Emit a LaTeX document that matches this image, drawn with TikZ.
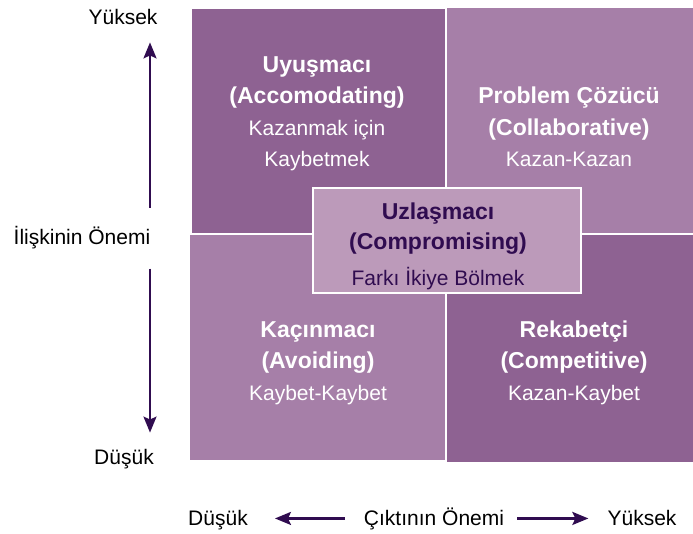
\documentclass[tikz,border=0pt]{standalone}
\usepackage{fontspec}
\setmainfont{Liberation Sans}
\usetikzlibrary{arrows.meta, positioning}
\definecolor{deepplum}{RGB}{142,98,146}
\definecolor{softplum}{RGB}{166,127,168}
\definecolor{paleplum}{RGB}{188,154,186}
\definecolor{inkplum}{RGB}{48,12,80}
\newcommand{\hd}[1]{{\fontsize{23}{31.5}\bfseries #1}}

\begin{document}
\begin{tikzpicture}[x=1pt, y=-1pt, >=Stealth,
    quad/.style={draw=white, line width=1.5pt, anchor=north west, inner sep=0pt},
    mid/.style={draw=white, line width=2pt, fill=paleplum, anchor=north west, inner sep=0pt, minimum width=268pt, minimum height=105pt},
    quadtext/.style={anchor=base, align=center, inner sep=0pt, text=white, font=\fontsize{21}{31.5}\selectfont},
    axislabel/.style={anchor=base, inner sep=0pt, font=\fontsize{21}{25}\selectfont},
    axisarrow/.style={draw=inkplum, line width=2.5pt, -{Stealth[length=16pt, width=13pt, inset=3pt]}}]

    \useasboundingbox (0,0) rectangle (693,534);

    % Quadrants
    \node[quad, fill=deepplum, minimum width=255pt, minimum height=225pt] (accom) at (190,8) {};
    \node[quad, fill=softplum, minimum width=248pt, minimum height=226pt] (collab) at (445,7) {};
    \node[quad, fill=softplum, minimum width=257pt, minimum height=226pt] (avoid) at (188,234) {};
    \node[quad, fill=deepplum, minimum width=248pt, minimum height=228pt] (compete) at (445,234) {};
    \node[mid] (compro) at (312,187) {};

    % Quadrant texts (anchored at the last baseline)
    \node[quadtext] (accomtext) at (317,167) {\hd{Uyuşmacı}\\ \hd{(Accomodating)}\\ Kazanmak için\\ Kaybetmek};
    \node[quadtext] (collabtext) at (569,167) {\hd{Problem Çözücü}\\ \hd{(Collaborative)}\\ Kazan-Kazan};
    \node[quadtext] (avoidtext) at (318,400) {\hd{Kaçınmacı}\\ \hd{(Avoiding)}\\ Kaybet-Kaybet};
    \node[quadtext] (competetext) at (574,400) {\hd{Rekabetçi}\\ \hd{(Competitive)}\\ Kazan-Kaybet};
    \node[quadtext, text=inkplum, font=\fontsize{21}{30}\selectfont] (comprotext) at (438,286) {\hd{Uzlaşmacı}\\ \hd{(Compromising)}\\[6pt] Farkı İkiye Bölmek};

    % Axes
    \node[axislabel] (yhigh) at (123,25) {Yüksek};
    \node[axislabel] (relimp) at (82,245) {İlişkinin Önemi};
    \node[axislabel] (ylow) at (124,464) {Düşük};
    \node[axislabel] (xlow) at (218,525) {Düşük};
    \node[axislabel] (outimp) at (434,525) {Çıktının Önemi};
    \node[axislabel] (xhigh) at (642,525) {Yüksek};

    \coordinate (vaxis) at (150,0);
    \draw[axisarrow, shorten <=19pt, shorten >=17pt] (relimp.north -| vaxis) -- (yhigh.south -| vaxis);
    \draw[axisarrow, shorten <=19pt, shorten >=16pt] (relimp.south -| vaxis) -- (ylow.north -| vaxis);
    \draw[axisarrow, shorten <=19pt, shorten >=27pt] (outimp.west) -- (outimp.west -| xlow.east);
    \draw[axisarrow, shorten <=13pt, shorten >=19pt] (outimp.east) -- (outimp.east -| xhigh.west);
\end{tikzpicture}
\end{document}
